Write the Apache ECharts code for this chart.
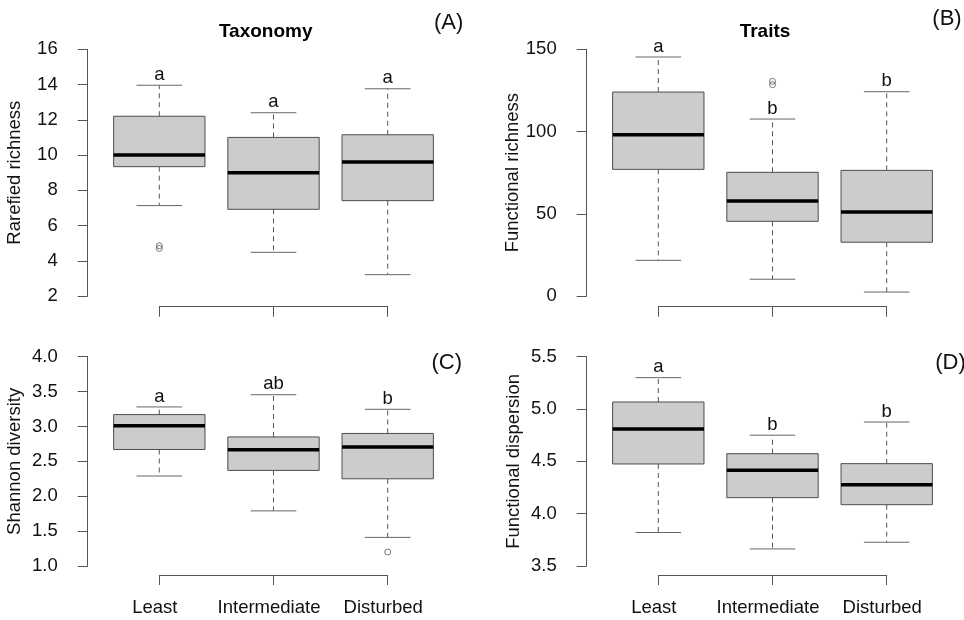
<!DOCTYPE html>
<html>
<head>
<meta charset="utf-8">
<script src="https://cdn.jsdelivr.net/npm/echarts@6/dist/echarts.min.js"></script>
<style>
html,body{margin:0;padding:0;background:#fff;}
#chart{width:964px;height:620px;}
</style>
</head>
<body>
<div id="chart"></div>
<script>
// ---- data ----
const categories = ['Least', 'Intermediate', 'Disturbed'];

// [lower whisker, Q1, median, Q3, upper whisker]
const rarefiedStats = [[7.13, 9.34, 10.0, 12.2, 13.96], [4.48, 6.92, 9.0, 11.0, 12.4], [3.21, 7.41, 9.6, 11.15, 13.76]];
const rarefiedOutliers = [[1, 4.7], [1, 4.85]];
const rarefiedLetters = ['a', 'a', 'a'];

const funcRichStats = [[21.7, 77, 98.1, 124, 145.3], [10.2, 45.4, 57.8, 75.2, 107.6], [2.4, 32.7, 51.1, 76.4, 124.2]];
const funcRichOutliers = [[2, 128.5], [2, 130.5]];
const funcRichLetters = ['a', 'b', 'b'];

const shannonStats = [[2.29, 2.67, 3.01, 3.17, 3.28], [1.79, 2.37, 2.667, 2.85, 3.455], [1.41, 2.25, 2.706, 2.9, 3.246]];
const shannonOutliers = [[3, 1.2]];
const shannonLetters = ['a', 'ab', 'b'];

const funcDispStats = [[3.82, 4.475, 4.81, 5.067, 5.30], [3.663, 4.153, 4.415, 4.573, 4.75], [3.727, 4.086, 4.277, 4.478, 4.876]];
const funcDispOutliers = [];
const funcDispLetters = ['a', 'b', 'b'];

const FONT = "'Liberation Sans', Arial, sans-serif";
const FS = 18.5;

const panels = [
  {stats: rarefiedStats, outliers: rarefiedOutliers, letters: rarefiedLetters, name: 'Rarefied richness',
   grid: {left: 159.3, top: 49.3, width: 228.4, height: 246.7}, y: {min: 2, max: 16, interval: 2, dec: 0}, xOff: 10.7, xLabels: false},
  {stats: funcRichStats, outliers: funcRichOutliers, letters: funcRichLetters, name: 'Functional richness',
   grid: {left: 658.3, top: 49.3, width: 228.4, height: 246.7}, y: {min: 0, max: 150, interval: 50, dec: 0}, xOff: 10.7, xLabels: false},
  {stats: shannonStats, outliers: shannonOutliers, letters: shannonLetters, name: 'Shannon diversity',
   grid: {left: 159.3, top: 356.7, width: 228.4, height: 209.3}, y: {min: 1, max: 4, interval: 0.5, dec: 1}, xOff: 9, xLabels: true},
  {stats: funcDispStats, outliers: funcDispOutliers, letters: funcDispLetters, name: 'Functional dispersion',
   grid: {left: 658.3, top: 356.7, width: 228.4, height: 209.3}, y: {min: 3.5, max: 5.5, interval: 0.5, dec: 1}, xOff: 9, xLabels: true}
];

function makeRender(letters) {
  return function (params, api) {
    const x = api.value(0);
    const lo = api.value(1), q1 = api.value(2), med = api.value(3), q3 = api.value(4), hi = api.value(5);
    const cx = api.coord([x, med])[0];
    const yLo = api.coord([x, lo])[1];
    const yQ1 = api.coord([x, q1])[1];
    const yMed = api.coord([x, med])[1];
    const yQ3 = api.coord([x, q3])[1];
    const yHi = api.coord([x, hi])[1];
    const bw = api.size([0.8, 0])[0];
    const cw = api.size([0.4, 0])[0];
    return {
      type: 'group',
      children: [
        {type: 'line', shape: {x1: cx, y1: yQ3, x2: cx, y2: yHi}, style: {stroke: '#555', lineWidth: 1, lineDash: [5, 4]}},
        {type: 'line', shape: {x1: cx, y1: yQ1, x2: cx, y2: yLo}, style: {stroke: '#555', lineWidth: 1, lineDash: [5, 4]}},
        {type: 'line', shape: {x1: cx - cw / 2, y1: yHi, x2: cx + cw / 2, y2: yHi}, style: {stroke: '#666', lineWidth: 1}},
        {type: 'line', shape: {x1: cx - cw / 2, y1: yLo, x2: cx + cw / 2, y2: yLo}, style: {stroke: '#666', lineWidth: 1}},
        {type: 'rect', shape: {x: cx - bw / 2, y: yQ3, width: bw, height: yQ1 - yQ3}, style: {fill: '#cccccc', stroke: '#4d4d4d', lineWidth: 1}},
        {type: 'line', shape: {x1: cx - bw / 2, y1: yMed, x2: cx + bw / 2, y2: yMed}, style: {stroke: '#000', lineWidth: 3.5}},
        {type: 'text', style: {text: letters[params.dataIndex], x: cx, y: yHi - 10.5, align: 'center', verticalAlign: 'middle',
          fill: '#111', fontSize: FS, fontFamily: FONT}}
      ]
    };
  };
}

const grids = [], xAxes = [], yAxes = [], series = [];
panels.forEach((p, i) => {
  grids.push(Object.assign({}, p.grid));
  xAxes.push({
    type: 'value', gridIndex: i, min: 1, max: 3, interval: 1, offset: p.xOff, position: 'bottom',
    axisLine: {show: true, onZero: false, lineStyle: {color: '#555', width: 1}},
    axisTick: {show: true, length: 10, lineStyle: {color: '#555'}},
    splitLine: {show: false},
    axisLabel: {show: p.xLabels, margin: 23, fontSize: FS, fontFamily: FONT, color: '#111', padding: [0, 9, 0, 0],
      formatter: v => categories[Math.round(v) - 1] || ''}
  });
  yAxes.push({
    type: 'value', gridIndex: i, min: p.y.min, max: p.y.max, interval: p.y.interval, offset: 71.6, position: 'left',
    name: p.name, nameLocation: 'middle', nameRotate: 90, nameGap: 63.5,
    nameTextStyle: {fontSize: FS, fontFamily: FONT, color: '#111'},
    axisLine: {show: true, onZero: false, lineStyle: {color: '#555', width: 1}},
    axisTick: {show: true, length: 10, lineStyle: {color: '#555'}},
    splitLine: {show: false},
    axisLabel: {margin: 30, fontSize: FS, fontFamily: FONT, color: '#111',
      formatter: v => v.toFixed(p.y.dec)}
  });
  series.push({
    type: 'custom', xAxisIndex: i, yAxisIndex: i, clip: false,
    renderItem: makeRender(p.letters),
    encode: {x: 0, y: [1, 2, 3, 4, 5]},
    data: p.stats.map((s, k) => [k + 1].concat(s)),
    z: 2
  });
  if (p.outliers.length) {
    series.push({
      type: 'scatter', xAxisIndex: i, yAxisIndex: i, symbol: 'circle', symbolSize: 6,
      itemStyle: {color: 'rgba(0,0,0,0)', borderColor: '#555', borderWidth: 1},
      data: p.outliers, z: 3, silent: true
    });
  }
});

const chart = echarts.init(document.getElementById('chart'), null, {renderer: 'canvas'});
chart.setOption({
  animation: false,
  backgroundColor: '#fff',
  grid: grids,
  xAxis: xAxes,
  yAxis: yAxes,
  series: series,
  graphic: [
    {type: 'text', x: 265.7, y: 31.7, style: {text: 'Taxonomy', align: 'center', verticalAlign: 'middle', fontSize: 19, fontWeight: 'bold', fontFamily: FONT, fill: '#000'}},
    {type: 'text', x: 765, y: 31.7, style: {text: 'Traits', align: 'center', verticalAlign: 'middle', fontSize: 19, fontWeight: 'bold', fontFamily: FONT, fill: '#000'}},
    {type: 'text', x: 448.7, y: 23.3, style: {text: '(A)', align: 'center', verticalAlign: 'middle', fontSize: 22, fontFamily: FONT, fill: '#111'}},
    {type: 'text', x: 947, y: 19, style: {text: '(B)', align: 'center', verticalAlign: 'middle', fontSize: 22, fontFamily: FONT, fill: '#111'}},
    {type: 'text', x: 446.7, y: 363.3, style: {text: '(C)', align: 'center', verticalAlign: 'middle', fontSize: 22, fontFamily: FONT, fill: '#111'}},
    {type: 'text', x: 950.5, y: 363.3, style: {text: '(D)', align: 'center', verticalAlign: 'middle', fontSize: 22, fontFamily: FONT, fill: '#111'}}
  ]
});
</script>
</body>
</html>
